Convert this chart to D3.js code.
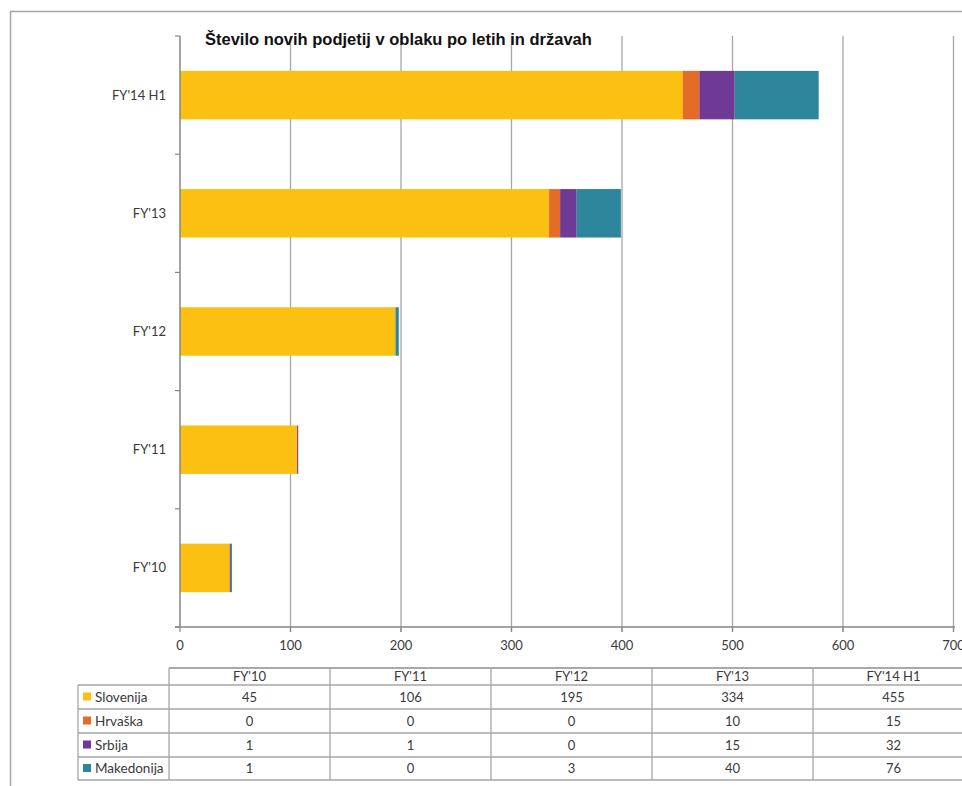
<!DOCTYPE html>
<html><head><meta charset="utf-8">
<script src="https://cdn.jsdelivr.net/npm/d3@7"></script>
<style>body{margin:0;background:#fff;}svg{display:block;}</style>
</head><body>
<script>
const categories = ["FY'10","FY'11","FY'12","FY'13","FY'14 H1"];
const seriesNames = ["Slovenija","Hrvaška","Srbija","Makedonija"];
const slovenija = [45,106,195,334,455];
const hrvaska = [0,0,0,10,15];
const srbija = [1,1,0,15,32];
const makedonija = [1,0,3,40,76];
const xTicks = [0,100,200,300,400,500,600,700];
const colors = ["#FBC012","#E46C28","#6F3996","#2E869C"];
const seriesValues = [slovenija,hrvaska,srbija,makedonija];

const W=962,H=786;
const svg=d3.select("body").append("svg").attr("width",W).attr("height",H);
const labelFont="Lato, 'Open Sans', sans-serif";
const txtC="#3a3a3a";

// outer frame
svg.append("rect").attr("x",10.5).attr("y",11.5).attr("width",1000).attr("height",900)
  .attr("fill","none").attr("stroke","#a5a5a5").attr("stroke-width",1.5);

const x=d3.scaleLinear().domain([0,700]).range([180,953.5]);
const y=d3.scaleBand().domain(categories.slice().reverse()).range([36,627]).paddingInner(0.59).paddingOuter(0.295);
const yb=d3.scaleBand().domain(categories.slice().reverse()).range([36,627]).padding(0);

// gridlines
svg.append("g").selectAll("line").data(xTicks.slice(1)).join("line")
  .attr("x1",d=>x(d)).attr("x2",d=>x(d)).attr("y1",36).attr("y2",632)
  .attr("stroke","#a6a6a6").attr("stroke-width",1.3);

// stacked bars
const rows=categories.map((c,i)=>{const o={cat:c};seriesNames.forEach((s,j)=>o[s]=seriesValues[j][i]);return o;});
const stack=d3.stack().keys(seriesNames)(rows);
svg.append("g").selectAll("g").data(stack).join("g").attr("fill",(d,i)=>colors[i])
  .selectAll("rect").data(d=>d).join("rect")
  .attr("x",d=>x(d[0])).attr("width",d=>x(d[1])-x(d[0]))
  .attr("y",d=>y(d.data.cat)).attr("height",y.bandwidth());

// y axis line
svg.append("line").attr("x1",180).attr("x2",180).attr("y1",36).attr("y2",627).attr("stroke","#868686").attr("stroke-width",1.5);
// y ticks at band boundaries
const yBounds=[36].concat(categories.slice().reverse().map(c=>yb(c)+yb.bandwidth()));
svg.append("g").selectAll("line").data(yBounds).join("line")
  .attr("x1",175).attr("x2",180).attr("y1",d=>d).attr("y2",d=>d).attr("stroke","#868686").attr("stroke-width",1.2);
// x axis line
svg.append("line").attr("x1",175).attr("x2",955).attr("y1",627).attr("y2",627).attr("stroke","#868686").attr("stroke-width",1.5);
svg.append("g").selectAll("line").data(xTicks).join("line")
  .attr("x1",d=>x(d)).attr("x2",d=>x(d)).attr("y1",627).attr("y2",632).attr("stroke","#868686").attr("stroke-width",1.2);

// category labels
svg.append("g").selectAll("text").data(categories).join("text")
  .attr("x",166).attr("y",d=>yb(d)+yb.bandwidth()/2).attr("dy","0.35em")
  .attr("text-anchor","end").attr("font-family",labelFont).attr("font-size",13).attr("fill",txtC)
  .text(d=>d);
// x tick labels
svg.append("g").selectAll("text").data(xTicks).join("text")
  .attr("x",d=>x(d)).attr("y",650).attr("text-anchor","middle")
  .attr("font-family",labelFont).attr("font-size",13).attr("fill",txtC).text(d=>d);

// title
svg.append("text").attr("x",205).attr("y",45).attr("font-family","'Liberation Sans', Arial, sans-serif")
  .attr("font-weight","bold").attr("font-size",16.5).attr("fill","#111")
  .text("Število novih podjetij v oblaku po letih in državah");

// data table
const colX0=169, colW=161, legX0=78;
const rowTops=[668,685,709,733,757,780];
const tbl=svg.append("g");
const gridC="#a6a6a6";
tbl.append("line").attr("x1",colX0).attr("x2",colX0+5*colW).attr("y1",rowTops[0]).attr("y2",rowTops[0]).attr("stroke","#8c8c8c").attr("stroke-width",1.5);
for(let k=1;k<rowTops.length;k++){
  tbl.append("line").attr("x1",legX0).attr("x2",colX0+5*colW).attr("y1",rowTops[k]).attr("y2",rowTops[k]).attr("stroke",gridC).attr("stroke-width",1.3);
}
tbl.append("line").attr("x1",legX0).attr("x2",legX0).attr("y1",rowTops[1]).attr("y2",rowTops[5]).attr("stroke",gridC).attr("stroke-width",1.3);
for(let c=0;c<=5;c++){
  tbl.append("line").attr("x1",colX0+c*colW).attr("x2",colX0+c*colW).attr("y1",rowTops[0]).attr("y2",rowTops[5]).attr("stroke",gridC).attr("stroke-width",1.3);
}
tbl.selectAll("text.h").data(categories).join("text").attr("class","h")
  .attr("x",(d,i)=>colX0+colW*i+colW/2).attr("y",(rowTops[0]+rowTops[1])/2).attr("dy","0.35em")
  .attr("text-anchor","middle").attr("font-family",labelFont).attr("font-size",13).attr("fill",txtC).text(d=>d);
seriesNames.forEach((s,j)=>{
  const cy=(rowTops[j+1]+rowTops[j+2])/2;
  tbl.append("rect").attr("x",83).attr("y",cy-4.5).attr("width",8).attr("height",8).attr("fill",colors[j]);
  tbl.append("text").attr("x",95).attr("y",cy).attr("dy","0.35em").attr("font-family",labelFont).attr("font-size",13.5).attr("fill",txtC).text(s);
  tbl.selectAll("text.v"+j).data(seriesValues[j]).join("text").attr("class","v"+j)
    .attr("x",(d,i)=>colX0+colW*i+colW/2).attr("y",cy).attr("dy","0.35em")
    .attr("text-anchor","middle").attr("font-family",labelFont).attr("font-size",13).attr("fill",txtC).text(d=>d);
});
</script>
</body></html>
